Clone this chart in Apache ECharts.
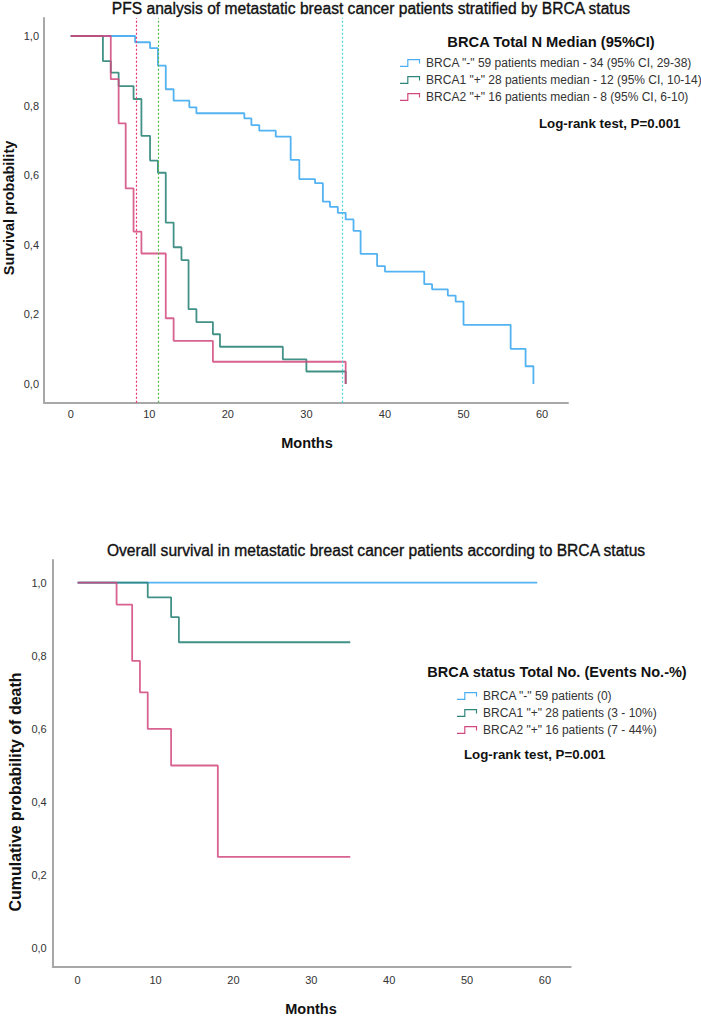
<!DOCTYPE html>
<html><head><meta charset="utf-8">
<script src="https://cdn.jsdelivr.net/npm/echarts@6/dist/echarts.min.js"></script>
<style>html,body{margin:0;padding:0;background:#fff}#c{width:701px;height:1016px}</style>
</head><body><div id="c"></div>
<script>
// ---------- data ----------
const xTicks = [0, 10, 20, 30, 40, 50, 60];
const yTicks = [0, 0.2, 0.4, 0.6, 0.8, 1.0];

const pfsTitle = 'PFS analysis of metastatic breast cancer patients stratified by BRCA status';
const pfsYTitle = 'Survival probability';
const pfsLegendTitle = 'BRCA Total N Median (95%CI)';
const pfsNames = [
  'BRCA "-" 59 patients median - 34 (95% CI, 29-38)',
  'BRCA1 "+" 28 patients median - 12 (95% CI, 10-14)',
  'BRCA2 "+" 16 patients median - 8 (95% CI, 6-10)'
];
const pfsNegT = [0, 8.2, 10.1, 11.1, 12.1, 13.1, 15.1, 16.0, 22.1, 23.0, 24.0, 26.1, 28.0, 29.1, 31.1, 32.1, 33.0, 34.0, 35.0, 36.0, 36.9, 39.0, 40.0, 45.0, 46.0, 48.0, 49.0, 50.0, 56.0, 57.9, 58.9];
const pfsNegS = [1, 0.982, 0.965, 0.915, 0.847, 0.814, 0.795, 0.778, 0.763, 0.744, 0.728, 0.711, 0.644, 0.589, 0.577, 0.524, 0.509, 0.492, 0.473, 0.440, 0.374, 0.339, 0.323, 0.287, 0.272, 0.254, 0.237, 0.170, 0.101, 0.051, 0.0];
const pfsB1T = [0, 4.1, 5.1, 6.1, 8.0, 9.0, 10.1, 11.1, 12.1, 13.1, 14.1, 15.0, 16.0, 18.1, 19.0, 27.0, 30.0, 35.0];
const pfsB1S = [1, 0.928, 0.895, 0.856, 0.819, 0.713, 0.642, 0.607, 0.464, 0.393, 0.356, 0.215, 0.178, 0.143, 0.107, 0.071, 0.036, 0.0];
const pfsB2T = [0, 5.1, 6.1, 7.0, 8.0, 9.0, 12.1, 13.1, 18.1, 35.0];
const pfsB2S = [1, 0.876, 0.749, 0.562, 0.438, 0.375, 0.189, 0.124, 0.064, 0.0];
const pfsMedians = [34.6, 11.2, 8.4];

const osTitle = 'Overall survival in metastatic breast cancer patients according to BRCA status';
const osYTitle = 'Cumulative probability of death';
const osLegendTitle = 'BRCA status Total No. (Events No.-%)';
const osNames = [
  'BRCA "-" 59 patients (0)',
  'BRCA1 "+" 28 patients (3 - 10%)',
  'BRCA2 "+" 16 patients (7 - 44%)'
];
const osNegT = [0, 59];
const osNegS = [1, 1];
const osB1T = [0, 9, 12, 13, 35];
const osB1S = [1, 0.960, 0.906, 0.837, 0.837];
const osB2T = [0, 5, 7, 8, 9, 12, 18, 35];
const osB2S = [1, 0.940, 0.786, 0.700, 0.600, 0.500, 0.250, 0.250];

const xName = 'Months';
const logRank = 'Log-rank test, P=0.001';

// ---------- styling ----------
const FONT = '"Liberation Sans", Arial, sans-serif';
const COLORS = ['#4aaef0', '#2e8579', '#d1487c'];
const MEDIAN_COLORS = ['#45d2dc', '#4fba48', '#e8336b'];
const AXIS_COLOR = '#a8a8a8';
const STEP_ICON = 'path://M0,7.4 L7.4,7.4 L7.4,0.4 L20.6,0.4 L20.6,5 L19.4,5 L19.4,1.6 L8.6,1.6 L8.6,8.6 L0,8.6 Z';

function pairs(t, s) { return t.map((v, i) => [v, s[i]]); }
function fmtY(v) { return v.toFixed(1).replace('.', ','); }

function xAxis(gridIndex, min, max, margin) {
  return {
    type: 'value', gridIndex, min, max,
    axisLine: { show: true, onZero: false, lineStyle: { color: AXIS_COLOR, width: 2 } },
    axisTick: { show: false }, splitLine: { show: false },
    axisLabel: { customValues: xTicks, margin, color: '#333', fontSize: 11, fontFamily: FONT }
  };
}
function yAxis(gridIndex, min, max, margin) {
  return {
    type: 'value', gridIndex, min, max,
    axisLine: { show: true, onZero: false, lineStyle: { color: AXIS_COLOR, width: 2 } },
    axisTick: { show: false }, splitLine: { show: false },
    axisLabel: { customValues: yTicks, margin, formatter: fmtY, color: '#333', fontSize: 11, fontFamily: FONT }
  };
}
function kmSeries(name, t, s, idx, gi, opacity, median) {
  const ser = {
    type: 'line', name, data: pairs(t, s), step: 'end',
    xAxisIndex: gi, yAxisIndex: gi, showSymbol: false, symbol: 'none',
    color: COLORS[idx],
    lineStyle: { color: COLORS[idx], width: 1.8, opacity },
    itemStyle: { color: COLORS[idx] },
    silent: true, z: 2 + idx
  };
  if (median !== undefined) {
    ser.markLine = {
      silent: true, symbol: 'none', animation: false,
      label: { show: false },
      lineStyle: { color: MEDIAN_COLORS[idx], type: [2, 2], width: 1.2, opacity: 1 },
      data: [{ xAxis: median }]
    };
  }
  return ser;
}
function text(str, x, y, font, align, extra, strokeW) {
  const style = { text: str, font, fill: '#111', align: align || 'center', verticalAlign: 'middle' };
  if (strokeW) { style.stroke = '#111'; style.lineWidth = strokeW; }
  return Object.assign({ type: 'text', x, y, silent: true, style }, extra || {});
}

const legendBase = {
  orient: 'vertical', itemWidth: 22, itemHeight: 8, itemGap: 3, icon: STEP_ICON,
  selectedMode: false, padding: 0,
  itemStyle: { borderWidth: 0 },
  textStyle: { fontFamily: FONT, fontSize: 12, color: '#333', lineHeight: 14 }
};

const option = {
  animation: false,
  backgroundColor: '#fff',
  grid: [
    { left: 44, width: 524, top: 18, height: 384.7 },
    { left: 52.7, width: 518, top: 560, height: 406.7 }
  ],
  xAxis: [xAxis(0, -3.4, 63.3, 6), xAxis(1, -3.2, 63.3, 8)],
  yAxis: [yAxis(0, -0.0537, 1.0517, 5), yAxis(1, -0.0503, 1.062, 6)],
  legend: [
    Object.assign({}, legendBase, { data: pfsNames, left: 400, top: 56 }),
    Object.assign({}, legendBase, { data: osNames, left: 457, top: 689 })
  ],
  series: [
    kmSeries(pfsNames[0], pfsNegT, pfsNegS, 0, 0, 0.95, pfsMedians[0]),
    kmSeries(pfsNames[1], pfsB1T, pfsB1S, 1, 0, 0.9, pfsMedians[1]),
    kmSeries(pfsNames[2], pfsB2T, pfsB2S, 2, 0, 0.85, pfsMedians[2]),
    kmSeries(osNames[0], osNegT, osNegS, 0, 1, 0.95),
    kmSeries(osNames[1], osB1T, osB1S, 1, 1, 0.9),
    kmSeries(osNames[2], osB2T, osB2S, 2, 1, 0.85)
  ],
  graphic: [
    text(pfsTitle, 371, 8, '15.6px ' + FONT, 'center', null, 0.35),
    text(osTitle, 376, 550, '15.6px ' + FONT, 'center', null, 0.35),
    text(pfsYTitle, 9, 208, 'bold 14.5px ' + FONT, 'center', { rotation: Math.PI / 2 }),
    text(osYTitle, 15, 792, 'bold 16px ' + FONT, 'center', { rotation: Math.PI / 2 }),
    text(xName, 307, 443, 'bold 14.5px ' + FONT),
    text(xName, 311, 1009, 'bold 14.5px ' + FONT),
    text(pfsLegendTitle, 551, 42, 'bold 14.7px ' + FONT),
    text(osLegendTitle, 557, 672, 'bold 14.5px ' + FONT),
    text(logRank, 539, 123, 'bold 13.3px ' + FONT, 'left'),
    text(logRank, 464, 754, 'bold 13.3px ' + FONT, 'left')
  ]
};

const chart = echarts.init(document.getElementById('c'), null, { renderer: 'svg' });
chart.setOption(option);
</script>
</body></html>
